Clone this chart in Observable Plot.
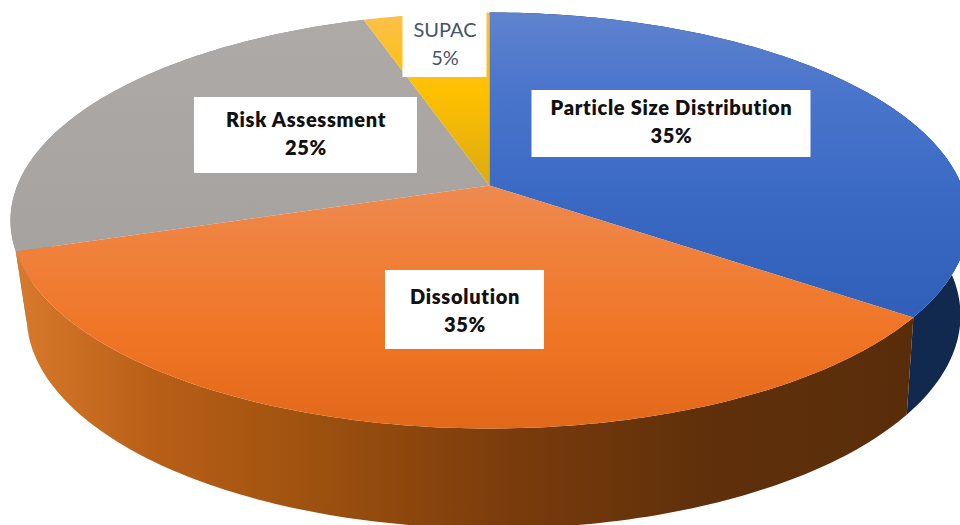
<!DOCTYPE html>
<html>
<head>
<meta charset="utf-8">
<script src="https://cdn.jsdelivr.net/npm/d3@7"></script>
<script src="https://cdn.jsdelivr.net/npm/@observablehq/plot@0.6"></script>
<style>
  html, body { margin: 0; padding: 0; background: #fff; }
  svg { display: block; }
  .slice-label-strong { letter-spacing: 0.7px; }
</style>
</head>
<body>
<div id="chart"></div>
<script>
// Share of studies per topic, clockwise from twelve o'clock.
const categories = ["Particle Size Distribution", "Dissolution", "Risk Assessment", "SUPAC"];
const shares = [35, 35, 25, 5];

// Rim ellipses of the tilted disc; "lean" is the perspective shift of the hub,
// "twist" the slight rotation (in radians) of the lower rim against the upper one.
const topRim = {cx: 489, cy: 220, rx: 479, ry: 208, lean: 0.168, twist: 0};
const bottomRim = {cx: 493, cy: 315, rx: 467, ry: 213, lean: 0.192, twist: 0.02};

const faceFill = ["url(#faceBlue)", "url(#faceOrange)", "url(#faceGrey)", "url(#faceGold)"];
const wallFill = ["#12294f", "url(#wallOrange)", "#8b8b8f", "#8f6c08"];

// Annotation boxes (centre, size), text centre, and text styling per slice.
const labelBoxes = [
  {cx: 671, cy: 123.5, w: 279, h: 67, ty: 120, color: "#111", weight: 800, cls: "slice-label-strong"},
  {cx: 464.5, cy: 309.5, w: 159, h: 79, ty: 309, color: "#111", weight: 800, cls: "slice-label-strong"},
  {cx: 305.5, cy: 135, w: 223, h: 76, ty: 132, color: "#111", weight: 800, cls: "slice-label-strong"},
  {cx: 444.5, cy: 38, w: 84, h: 78, ty: 42, color: "#44546a", weight: 400, cls: "slice-label-plain"}
];

const slices = d3.pie().sort(null)(shares);
const degree = Math.PI / 180;

// Perspective image of a point on the unit circle, angle measured clockwise from the top.
function rimPoint(rim, angle) {
  const a = angle + rim.twist;
  const sx = Math.sin(a), sy = Math.cos(a), w = 1 + rim.lean * sy;
  return {
    x: rim.cx + rim.rx * sx * Math.sqrt(1 - rim.lean * rim.lean) / w,
    y: rim.cy - rim.ry * (sy + rim.lean) / w
  };
}

function arc(rim, a0, a1) {
  const n = Math.max(2, Math.ceil(Math.abs(a1 - a0) / degree));
  return d3.range(n + 1).map(i => rimPoint(rim, a0 + (a1 - a0) * i / n));
}

const hub = {x: topRim.cx, y: topRim.cy - topRim.ry * topRim.lean};
const facePolygon = s => [hub, ...arc(topRim, s.startAngle, s.endAngle)];
const wallPolygon = s => [...arc(topRim, s.startAngle, s.endAngle), ...arc(bottomRim, s.endAngle, s.startAngle)];

// Gradient definitions, positioned through the plot's own scales.
function gradients(index, {x, y}) {
  const defs = d3.create("svg:defs");
  const add = (id, axis, stops) => {
    const g = defs.append("linearGradient").attr("id", id).attr("gradientUnits", "userSpaceOnUse");
    if (axis === "x") {
      g.attr("x1", x(stops[0][0])).attr("x2", x(stops[stops.length - 1][0])).attr("y1", 0).attr("y2", 0);
    } else {
      g.attr("y1", y(stops[0][0])).attr("y2", y(stops[stops.length - 1][0])).attr("x1", 0).attr("x2", 0);
    }
    const lo = stops[0][0], hi = stops[stops.length - 1][0];
    for (const [p, c] of stops) {
      g.append("stop").attr("offset", (p - lo) / (hi - lo)).attr("stop-color", c);
    }
  };
  add("faceBlue", "y", [[12, "#5f83cf"], [90, "#4a75cb"], [200, "#3a69c4"], [320, "#2f5fb8"]]);
  add("faceOrange", "y", [[185, "#ee8a50"], [260, "#f07f38"], [340, "#ef7424"], [428, "#e2681a"]]);
  add("faceGrey", "y", [[15, "#adaaa8"], [250, "#a6a2a0"]]);
  add("faceGold", "y", [[15, "#fbc04a"], [90, "#ffc000"], [185, "#dcab12"]]);
  add("wallOrange", "x", [[15, "#d87a2c"], [150, "#b95f17"], [300, "#a0530f"], [500, "#7c3c0c"], [700, "#5f300a"], [910, "#5a2d0a"]]);
  return defs.node();
}

const labels = slices.map((s, i) => ({
  ...labelBoxes[i],
  text: `${categories[i]}\n${shares[i]}%`
}));

const chart = Plot.plot({
  width: 960,
  height: 525,
  margin: 0,
  style: {background: "#fff"},
  x: {domain: [0, 960], range: [0, 960], axis: null},
  y: {domain: [0, 525], range: [0, 525], axis: null},
  marks: [
    gradients,
    // Side walls go first so the top faces cover their far portions.
    ...[2, 0, 1].map(i => Plot.line(wallPolygon(slices[i]), {
      x: "x", y: "y", fill: wallFill[i], stroke: "none"
    })),
    ...[2, 3, 0, 1].map(i => Plot.line(facePolygon(slices[i]), {
      x: "x", y: "y", fill: faceFill[i], stroke: "none"
    })),
    Plot.rect(labels, {
      x1: d => d.cx - d.w / 2, x2: d => d.cx + d.w / 2,
      y1: d => d.cy - d.h / 2, y2: d => d.cy + d.h / 2,
      fill: "#fff"
    }),
    ...labels.map(d => Plot.text([d], {
      x: "cx", y: "ty", text: "text",
      fill: d.color,
      fontFamily: "Lato",
      fontSize: 20,
      fontWeight: d.weight,
      lineHeight: 1.4,
      className: d.cls
    }))
  ]
});

document.getElementById("chart").append(chart);
</script>
</body>
</html>
